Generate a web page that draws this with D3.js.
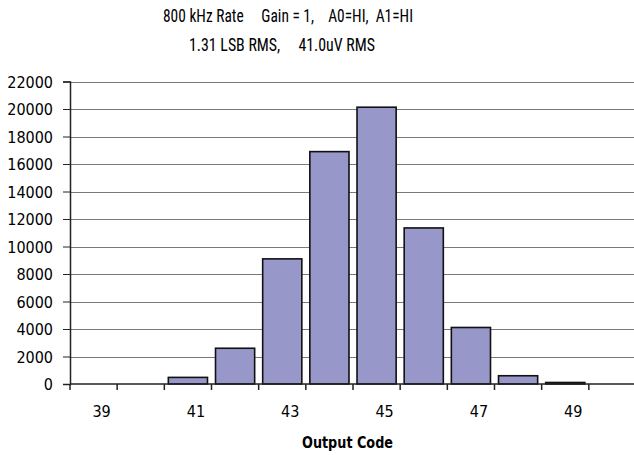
<!DOCTYPE html>
<html><head><meta charset="utf-8">
<script src="https://cdn.jsdelivr.net/npm/d3@7"></script>
<style>
html,body{margin:0;padding:0;background:#fff;}
svg{display:block;}
text{font-family:"DejaVu Sans Condensed","Liberation Sans Narrow",sans-serif;fill:#000;}
text.ttl{font-family:"Liberation Sans Narrow","Arial Narrow","Roboto Condensed","Liberation Sans",sans-serif;}
</style></head>
<body>
<script>
const categories = [39, 40, 41, 42, 43, 44, 45, 46, 47, 48, 49, 50];
const counts = [0, 0, 480, 2600, 9100, 16900, 20130, 11350, 4110, 600, 110, 0];
const yTicks = [0, 2000, 4000, 6000, 8000, 10000, 12000, 14000, 16000, 18000, 20000, 22000];
const xLabels = [39, 41, 43, 45, 47, 49];
const titleLines = ["800 kHz Rate     Gain = 1,    A0=HI,  A1=HI", "1.31 LSB RMS,     41.0uV RMS"];
const xTitle = "Output Code";

const W = 634, H = 455;
const m = {left: 70, top: 81.5, right: -2, bottom: 71};
const svg = d3.select("body").append("svg").attr("width", W).attr("height", H);

const x = d3.scaleBand().domain(categories).range([m.left, W - m.right]).paddingInner(0.17).paddingOuter(0.085);
const xEdge = d3.scaleBand().domain(categories).range([m.left, W - m.right]);
const y = d3.scaleLinear().domain([0, 22000]).range([H - m.bottom, m.top]);

// gridlines
svg.append("g").selectAll("line").data(yTicks.filter(d => d > 0)).join("line")
  .attr("x1", m.left).attr("x2", W)
  .attr("y1", d => Math.round(y(d)) + 0.5).attr("y2", d => Math.round(y(d)) + 0.5)
  .attr("stroke", "#7a7a7a").attr("stroke-width", 1);

// bars
svg.append("g").selectAll("rect").data(categories.map((c, i) => ({c, v: counts[i]})).filter(d => d.v > 0)).join("rect")
  .attr("x", d => x(d.c)).attr("width", x.bandwidth())
  .attr("y", d => y(d.v)).attr("height", d => y(0) - y(d.v))
  .attr("fill", "#9797ca").attr("stroke", "#111").attr("stroke-width", 1.6);

// y axis
const yAxis = d3.axisLeft(y).tickValues(yTicks).tickSize(7).tickPadding(10).tickFormat(d3.format("d"));
const gy = svg.append("g").attr("transform", `translate(${m.left},0)`).call(yAxis);
gy.select(".domain").attr("stroke", "#222").attr("stroke-width", 1.5);
gy.selectAll(".tick line").attr("stroke", "#222");
gy.selectAll("text").style("font-size", "16px").attr("dy", "0.36em");

// x axis
const gx = svg.append("g").attr("transform", `translate(0,${y(0)})`);
gx.append("line").attr("x1", m.left).attr("x2", W).attr("stroke", "#222").attr("stroke-width", 1.5);
gx.selectAll("line.tk").data(categories).join("line").attr("class", "tk")
  .attr("x1", d => xEdge(d)).attr("x2", d => xEdge(d)).attr("y1", 0).attr("y2", 6)
  .attr("stroke", "#222").attr("stroke-width", 1.5);
gx.selectAll("text").data(xLabels).join("text")
  .attr("x", d => xEdge(d) + xEdge.bandwidth() / 2 + 8).attr("y", 33)
  .attr("text-anchor", "middle").style("font-size", "16px").text(d => d);

// titles
const titleX = [163, 189], titleLen = [250, 186];
svg.append("g").selectAll("text").data(titleLines).join("text")
  .attr("class", "ttl")
  .attr("x", (d, i) => titleX[i]).attr("y", (d, i) => 22 + i * 29)
  .attr("textLength", (d, i) => titleLen[i]).attr("lengthAdjust", "spacingAndGlyphs")
  .style("font-size", "17.5px").style("white-space", "pre").text(d => d);

svg.append("text").attr("x", 347.5).attr("y", 448).attr("text-anchor", "middle")
  .attr("textLength", 91).attr("lengthAdjust", "spacingAndGlyphs")
  .style("font-size", "15px").style("font-weight", "bold").text(xTitle);
</script>
</body></html>
